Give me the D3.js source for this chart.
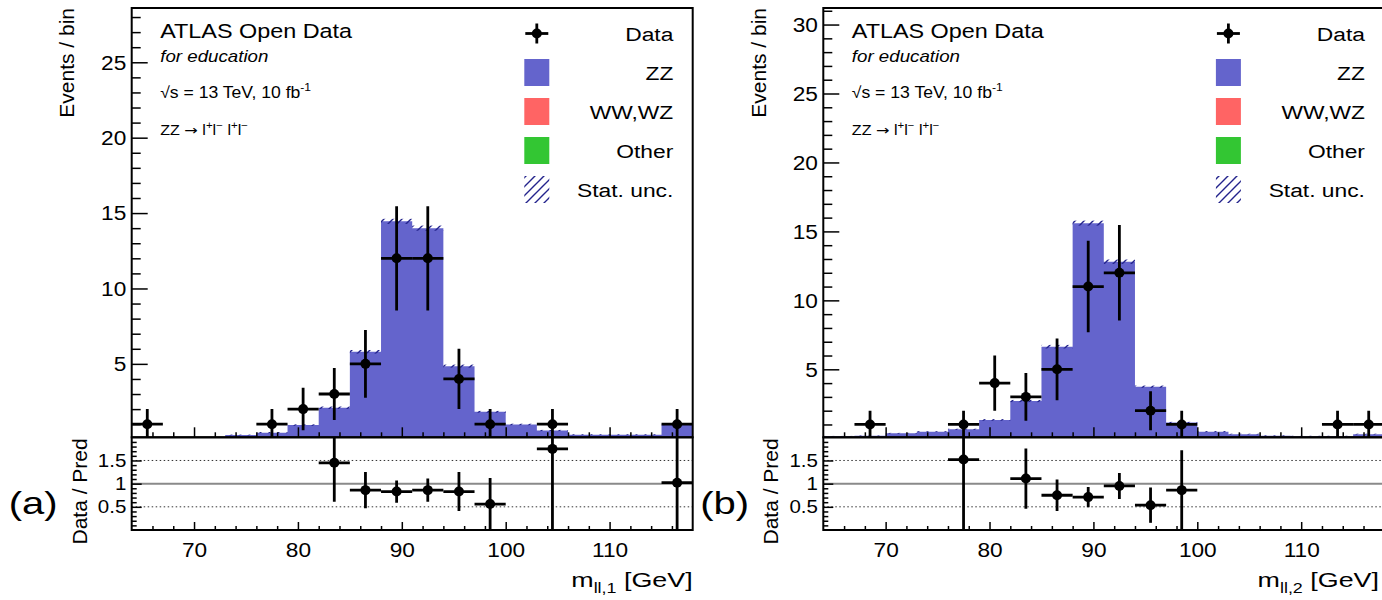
<!DOCTYPE html>
<html lang="en">
<head>
<meta charset="UTF-8">
<title>ATLAS Open Data - ZZ dilepton masses</title>
<style>
    body { margin: 0; background: #fff; }
    svg { display: block; font-family: "Liberation Sans", Arial, Helvetica, sans-serif; }
    .frame { fill: none; stroke: #000; stroke-width: 2px; }
    .tick line { stroke: #000; stroke-width: 1.5px; }
    .tick text { fill: #000; }
    .err { stroke: #000; stroke-width: 2.8px; }
</style>
</head>
<body>
<svg id="chart" width="1382" height="600"></svg>
<script src="https://d3js.org/d3.v7.min.js"></script>
<script>
// lower bin edges (3 GeV bins), shared by both plots
const binLow = [64, 67, 70, 73, 76, 79, 82, 85, 88, 91, 94, 97, 100, 103, 106, 109, 112, 115];
const binWidth = 3;
const xMajor = [70, 80, 90, 100, 110];
const legendLabels = ["Data", "ZZ", "WW,WZ", "Other", "Stat. unc."];
const colors = { zz: "#6464cc", wwwz: "#ff6464", other: "#33c633", hatch: "#23238c" };

// (a) m_ll,1
const zzA    = [0.05, 0.08, 0.1, 0.28, 0.44, 0.94, 2.09, 5.8, 14.45, 14.0, 4.85, 1.82, 0.98, 0.58, 0.3, 0.3, 0.3, 0.98];
const wwwzA  = [0, 0, 0, 0, 0, 0, 0, 0, 0, 0, 0, 0, 0, 0, 0, 0, 0, 0];
const otherA = [0, 0, 0, 0, 0, 0, 0, 0, 0, 0, 0, 0, 0, 0, 0, 0, 0, 0];
const uncA   = [0.01, 0.01, 0.01, 0.03, 0.04, 0.05, 0.08, 0.12, 0.17, 0.17, 0.1, 0.06, 0.05, 0.04, 0.03, 0.03, 0.03, 0.05];
const dataA  = [1, 0, 0, 0, 1, 2, 3, 5, 12, 12, 4, 1, 0, 1, 0, 0, 0, 1];
const errA   = [1, 0, 0, 0, 1, 1.41, 1.73, 2.24, 3.46, 3.46, 2, 1, 0, 1, 0, 0, 0, 1];
const ratioA    = [null, null, null, null, null, null, 1.45, 0.86, 0.83, 0.86, 0.83, 0.56, null, 1.75, null, null, null, 1.02];
const ratioErrA = [null, null, null, null, null, null, 0.84, 0.39, 0.24, 0.25, 0.42, 0.56, null, 1.75, null, null, null, 1.02];

// (b) m_ll,2
const zzB    = [0.15, 0.18, 0.36, 0.48, 0.65, 1.33, 2.7, 6.64, 15.6, 12.8, 3.74, 1.14, 0.48, 0.3, 0.18, 0.15, 0.15, 0.3];
const wwwzB  = [0, 0, 0, 0, 0, 0, 0, 0, 0, 0, 0, 0, 0, 0, 0, 0, 0, 0];
const otherB = [0, 0, 0, 0, 0, 0, 0, 0, 0, 0, 0, 0, 0, 0, 0, 0, 0, 0];
const uncB   = [0.02, 0.02, 0.03, 0.03, 0.04, 0.06, 0.08, 0.13, 0.18, 0.16, 0.08, 0.05, 0.04, 0.03, 0.03, 0.03, 0.03, 0.03];
const dataB  = [0, 1, 0, 0, 1, 4, 3, 5, 11, 12, 2, 1, 0, 0, 0, 0, 1, 1];
const errB   = [0, 1, 0, 0, 1, 2, 1.73, 2.24, 3.32, 3.46, 1.41, 1, 0, 0, 0, 0, 1, 1];
const ratioB    = [null, null, null, null, 1.52, null, 1.11, 0.75, 0.71, 0.95, 0.535, 0.86, null, null, null, null, null, null];
const ratioErrB = [null, null, null, null, 1.52, null, 0.65, 0.34, 0.22, 0.28, 0.38, 0.86, null, null, null, null, null, null];

const panels = [
    { id: "a", left: 131.7, yDomain: [0.13, 28.6], yMajor: [5, 10, 15, 20, 25],
      zz: zzA, wwwz: wwwzA, other: otherA, unc: uncA, data: dataA, err: errA,
      ratio: ratioA, ratioErr: ratioErrA, sub: "ll,1", tag: "(a)" },
    { id: "b", left: 823.3, yDomain: [0.07, 31.2], yMajor: [5, 10, 15, 20, 25, 30],
      zz: zzB, wwwz: wwwzB, other: otherB, unc: uncB, data: dataB, err: errB,
      ratio: ratioB, ratioErr: ratioErrB, sub: "ll,2", tag: "(b)" }
];

const svg = d3.select("#chart");
const defs = svg.append("defs");

const hatch = defs.append("pattern")
    .attr("id", "hatch")
    .attr("patternUnits", "userSpaceOnUse")
    .attr("width", 9).attr("height", 9);
hatch.append("path")
    .attr("d", "M-1,10 L10,-1 M-1,1 L1,-1 M8,10 L10,8")
    .attr("stroke", colors.hatch)
    .attr("stroke-width", 1.4);

const TOP = 8, MID = 437.3, BOT = 530, WIDTH = 561;

// text with a slight horizontal stretch like the reference rendering
function stretchText(g, x, y, sx, size, anchor, rot) {
    return g.append("text")
        .attr("transform", `translate(${x},${y})` + (rot ? ` rotate(${rot})` : "") + ` scale(${sx},1)`)
        .attr("font-size", size)
        .attr("text-anchor", anchor)
        .attr("fill", "#000");
}

function styleAxis(sel, size, sx) {
    sel.select(".domain").remove();
    sel.attr("font-family", null).attr("font-size", size);
    sel.selectAll("text").attr("transform", `scale(${sx},1)`);
}

function drawPanel(p) {
    const L = p.left, R = p.left + WIDTH;
    const g = svg.append("g");

    const x = d3.scaleLinear().domain([64, 118]).range([L, R]);
    const y = d3.scaleLinear().domain(p.yDomain).range([MID, TOP]);
    const yr = d3.scaleLinear().domain([0, 2]).range([BOT, MID]);

    defs.append("clipPath").attr("id", "clipMain" + p.id)
        .append("rect").attr("x", L).attr("y", TOP).attr("width", WIDTH).attr("height", MID - TOP);
    defs.append("clipPath").attr("id", "clipRatio" + p.id)
        .append("rect").attr("x", L).attr("y", MID).attr("width", WIDTH).attr("height", BOT - MID);

    // ---- stacked MC histogram ----
    const rows = binLow.map((lo, i) => ({ lo: lo, other: p.other[i], wwwz: p.wwwz[i], zz: p.zz[i] }));
    const series = d3.stack().keys(["other", "wwwz", "zz"])(rows);

    const area = d3.area()
        .x(d => x(d.x))
        .y0(d => y(Math.max(d.y0, p.yDomain[0] * 0.5)))
        .y1(d => y(Math.max(d.y1, p.yDomain[0] * 0.5)));

    const main = g.append("g").attr("clip-path", `url(#clipMain${p.id})`);
    series.forEach(s => {
        const pts = [];
        s.forEach(d => {
            pts.push({ x: d.data.lo, y0: d[0], y1: d[1] });
            pts.push({ x: d.data.lo + binWidth, y0: d[0], y1: d[1] });
        });
        main.append("path").attr("d", area(pts)).attr("fill", colors[s.key]);
    });

    // stat. uncertainty band on the total
    const total = series[series.length - 1];
    main.selectAll(".unc").data(total.map((d, i) => ({ lo: d.data.lo, v: d[1], u: p.unc[i] })))
        .join("rect")
        .attr("x", d => x(d.lo))
        .attr("width", x(64 + binWidth) - x(64))
        .attr("y", d => y(d.v + d.u))
        .attr("height", d => Math.max(0, y(d.v - d.u) - y(d.v + d.u)))
        .attr("fill", "url(#hatch)");

    // ---- data points ----
    const pts = binLow.map((lo, i) => ({ lo: lo, n: p.data[i], e: p.err[i] })).filter(d => d.n > 0);
    const dg = main.selectAll(".pt").data(pts).join("g");
    dg.append("line").attr("class", "err")
        .attr("x1", d => x(d.lo)).attr("x2", d => x(d.lo + binWidth))
        .attr("y1", d => y(d.n)).attr("y2", d => y(d.n));
    dg.append("line").attr("class", "err")
        .attr("x1", d => x(d.lo + binWidth / 2)).attr("x2", d => x(d.lo + binWidth / 2))
        .attr("y1", d => y(Math.max(d.n - d.e, p.yDomain[0] * 0.5))).attr("y2", d => y(d.n + d.e));
    dg.append("circle")
        .attr("cx", d => x(d.lo + binWidth / 2)).attr("cy", d => y(d.n)).attr("r", 5);

    // ---- ratio panel ----
    const rg = g.append("g").attr("clip-path", `url(#clipRatio${p.id})`);
    rg.append("line").attr("x1", L).attr("x2", R).attr("y1", yr(1)).attr("y2", yr(1))
        .attr("stroke", "#8a8a8a").attr("stroke-width", 2);
    [0.5, 1.5].forEach(v => {
        rg.append("line").attr("x1", L).attr("x2", R).attr("y1", yr(v)).attr("y2", yr(v))
            .attr("stroke", "#333").attr("stroke-width", 1).attr("stroke-dasharray", "1.5,2.5");
    });
    const rpts = binLow.map((lo, i) => ({ lo: lo, r: p.ratio[i], e: p.ratioErr[i] })).filter(d => d.r !== null);
    const rgp = rg.selectAll(".rpt").data(rpts).join("g");
    rgp.append("line").attr("class", "err")
        .attr("x1", d => x(d.lo)).attr("x2", d => x(d.lo + binWidth))
        .attr("y1", d => yr(d.r)).attr("y2", d => yr(d.r));
    rgp.append("line").attr("class", "err")
        .attr("x1", d => x(d.lo + binWidth / 2)).attr("x2", d => x(d.lo + binWidth / 2))
        .attr("y1", d => yr(Math.max(d.r - d.e, -0.1))).attr("y2", d => yr(Math.min(d.r + d.e, 2.1)));
    rgp.append("circle")
        .attr("cx", d => x(d.lo + binWidth / 2)).attr("cy", d => yr(d.r)).attr("r", 5);

    // ---- axes ----
    const yMinor = d3.range(1, p.yDomain[1], 1).filter(v => v % 5 !== 0);
    g.append("g").attr("transform", `translate(${L},0)`)
        .call(d3.axisLeft(y).tickValues(yMinor).tickSize(-9).tickFormat(""))
        .call(a => styleAxis(a, 21, 1));
    g.append("g").attr("transform", `translate(${L},0)`)
        .call(d3.axisLeft(y).tickValues(p.yMajor).tickSize(-16).tickPadding(5).tickFormat(d3.format("d")))
        .call(a => styleAxis(a, 21, 1.08));

    const xMinor = d3.range(66, 118, 2).filter(v => v % 10 !== 0);
    g.append("g").attr("transform", `translate(0,${MID})`)
        .call(d3.axisBottom(x).tickValues(xMinor).tickSize(-5).tickFormat(""))
        .call(a => styleAxis(a, 21, 1));
    g.append("g").attr("transform", `translate(0,${MID})`)
        .call(d3.axisBottom(x).tickValues(xMajor).tickSize(-10).tickFormat(""))
        .call(a => styleAxis(a, 21, 1));
    g.append("g").attr("transform", `translate(0,${BOT})`)
        .call(d3.axisBottom(x).tickValues(xMinor).tickSize(-4).tickFormat(""))
        .call(a => styleAxis(a, 21, 1));
    g.append("g").attr("transform", `translate(0,${BOT})`)
        .call(d3.axisBottom(x).tickValues(xMajor).tickSize(-8).tickPadding(12).tickFormat(d3.format("d")))
        .call(a => styleAxis(a, 21, 1.08));

    const rMinor = d3.range(1, 20).map(v => v / 10).filter(v => v !== 0.5 && v !== 1 && v !== 1.5);
    g.append("g").attr("transform", `translate(${L},0)`)
        .call(d3.axisLeft(yr).tickValues(rMinor).tickSize(-5).tickFormat(""))
        .call(a => styleAxis(a, 19, 1));
    g.append("g").attr("transform", `translate(${L},0)`)
        .call(d3.axisLeft(yr).tickValues([0.5, 1, 1.5]).tickSize(-10).tickPadding(5).tickFormat(d3.format("~g")))
        .call(a => styleAxis(a, 19, 1.08));

    // frames
    g.append("rect").attr("class", "frame").attr("x", L).attr("y", TOP).attr("width", WIDTH).attr("height", MID - TOP);
    g.append("rect").attr("class", "frame").attr("x", L).attr("y", MID).attr("width", WIDTH).attr("height", BOT - MID);

    // ---- titles ----
    stretchText(g, L - 57.5, TOP, 1, 21, "end", -90).text("Events / bin");
    stretchText(g, L - 45, MID + 1, 1, 21, "end", -90).text("Data / Pred");

    const xt = stretchText(g, Math.min(R, 1379), 587, 1.28, 21, "end");
    xt.append("tspan").text("m");
    xt.append("tspan").attr("font-size", 14).attr("dy", 6).text(p.sub);
    xt.append("tspan").attr("dy", -6).text(" [GeV]");

    stretchText(g, L - 123, 514, 1.25, 32, "start").text(p.tag);

    // ATLAS labels
    const tx = L + 28.5;
    stretchText(g, tx, 38, 1.2, 19.5, "start").text("ATLAS Open Data");
    stretchText(g, tx, 62, 1.17, 16, "start").attr("font-style", "italic").text("for education");
    const en = stretchText(g, tx, 98, 1.1, 16, "start");
    en.append("tspan").text("\u221As = 13 TeV, 10 fb");
    en.append("tspan").attr("font-size", 11).attr("dy", -7).text("-1");
    const pr = stretchText(g, tx, 135, 1.15, 14, "start");
    pr.append("tspan").text("ZZ ");
    pr.append("tspan").attr("font-family", "DejaVu Sans").text("\u2192");
    pr.append("tspan").text(" l");
    pr.append("tspan").attr("font-size", 10).attr("dy", -6).text("+");
    pr.append("tspan").attr("dy", 6).text("l");
    pr.append("tspan").attr("font-size", 10).attr("dy", -6).text("\u2212");
    pr.append("tspan").attr("dy", 6).text(" l");
    pr.append("tspan").attr("font-size", 10).attr("dy", -6).text("+");
    pr.append("tspan").attr("dy", 6).text("l");
    pr.append("tspan").attr("font-size", 10).attr("dy", -6).text("\u2212");

    // ---- legend ----
    const lg = g.append("g");
    const boxX = R - 168.4, boxW = 25, boxH = 27;
    legendLabels.forEach((name, i) => {
        const cy = 33.5 + 39 * i;
        if (i === 0) {
            lg.append("line").attr("class", "err").attr("x1", boxX + 1).attr("x2", boxX + boxW - 1).attr("y1", cy).attr("y2", cy);
            lg.append("line").attr("class", "err").attr("x1", boxX + boxW / 2).attr("x2", boxX + boxW / 2).attr("y1", cy - 10).attr("y2", cy + 10);
            lg.append("circle").attr("cx", boxX + boxW / 2).attr("cy", cy).attr("r", 5);
        } else {
            const fill = [null, colors.zz, colors.wwwz, colors.other, "url(#hatch)"][i];
            lg.append("rect").attr("x", boxX).attr("y", cy - boxH / 2).attr("width", boxW).attr("height", boxH).attr("fill", fill);
        }
        stretchText(lg, R - 19.4, cy + 7.5, 1.2, 19, "end").text(name);
    });
}

panels.forEach(drawPanel);
</script>
</body>
</html>
